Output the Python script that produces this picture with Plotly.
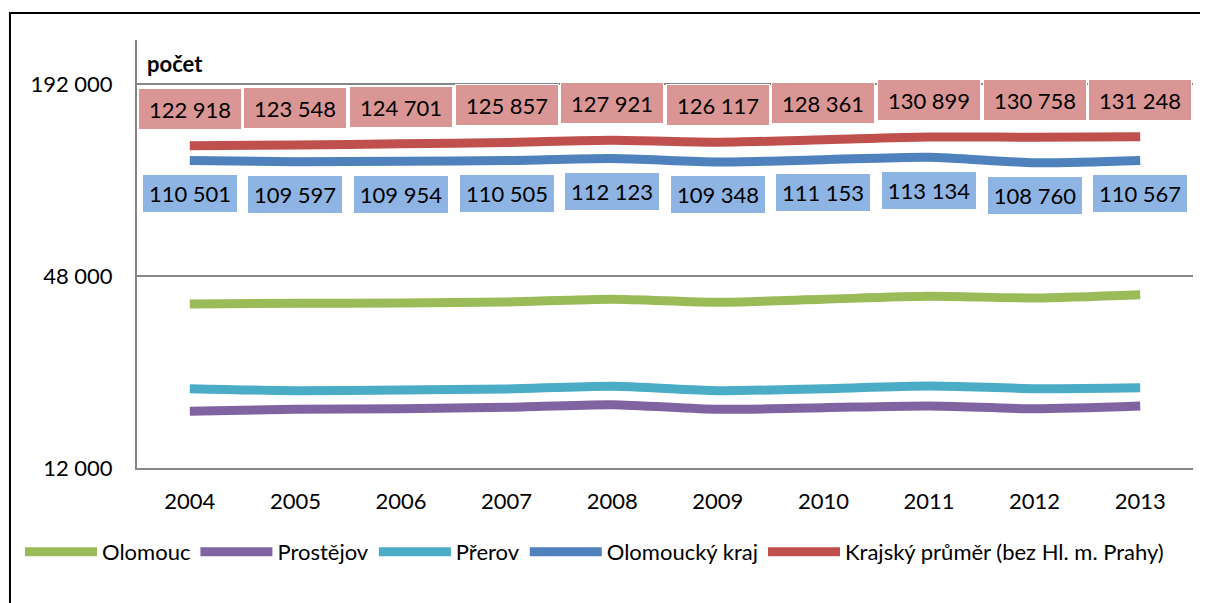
import math
import plotly.graph_objects as go

# data (log axis, base 4)
years = ["2004", "2005", "2006", "2007", "2008", "2009", "2010", "2011", "2012", "2013"]
olomouc = [39220, 39420, 39500, 39790, 40570, 39700, 40570, 41460, 40960, 41940]
prostejov = [18070, 18330, 18410, 18600, 18960, 18330, 18550, 18780, 18410, 18780]
prerov = [21280, 20970, 21080, 21230, 21650, 20970, 21280, 21700, 21280, 21430]
olomoucky_kraj = [110501, 109597, 109954, 110505, 112123, 109348, 111153, 113134, 108760, 110567]
krajsky_prumer = [122918, 123548, 124701, 125857, 127921, 126117, 128361, 130899, 130758, 131248]
y_ticks = [12000, 48000, 192000]

FONT = "Lato, 'Open Sans', sans-serif"


def fmt(v):
    return f"{v:,}".replace(",", " ")


series = [
    ("Olomouc", olomouc, "#9BBB59"),
    ("Prostějov", prostejov, "#8064A2"),
    ("Přerov", prerov, "#4BACC6"),
    ("Olomoucký kraj", olomoucky_kraj, "#4F81BD"),
    ("Krajský průměr (bez Hl. m. Prahy)", krajsky_prumer, "#C0504D"),
]

fig = go.Figure()
for name, vals, col in series:
    fig.add_trace(go.Scatter(
        x=years, y=vals, name=name, mode="lines",
        line=dict(color=col, width=9, shape="spline", smoothing=0.7),
        hoverinfo="skip",
    ))

# value boxes: region average above its line, Olomoucký kraj below
# (x given as category index so "2004" is not read as a number)
annotations = []
for i, v in enumerate(krajsky_prumer):
    annotations.append(dict(
        x=i, y=math.log10(v), text=fmt(v), showarrow=False, yshift=37,
        bgcolor="#D99694", bordercolor="white", borderwidth=1, borderpad=0,
        width=102, height=40, font=dict(family=FONT, size=22, color="black"),
    ))
for i, v in enumerate(olomoucky_kraj):
    annotations.append(dict(
        x=i, y=math.log10(v), text=fmt(v), showarrow=False, yshift=-33,
        bgcolor="#8EB4E3", bordercolor="white", borderwidth=1, borderpad=0,
        width=94, height=37, font=dict(family=FONT, size=22, color="black"),
    ))
annotations.append(dict(
    xref="paper", yref="paper", x=0.008, y=0.945, xanchor="left", yanchor="middle",
    text="<b>počet</b>", showarrow=False, font=dict(family=FONT, size=22, color="black"),
))
fig.update_layout(annotations=annotations)

# outer frame of the chart area
fig.add_shape(type="rect", xref="paper", yref="paper",
              x0=-0.1203, y0=-0.34, x1=1.03, y1=1.0631,
              line=dict(color="black", width=2), fillcolor="rgba(0,0,0,0)", layer="below")

# page body adds 8px, so margins are offset by that
fig.update_layout(
    width=1208, height=603,
    margin=dict(l=129, r=23, t=32, b=143, autoexpand=False),
    paper_bgcolor="white", plot_bgcolor="white",
    font=dict(family=FONT, size=22, color="black"),
    showlegend=True,
    legend=dict(
        orientation="h", x=-0.1108, y=-0.196, xanchor="left", yanchor="middle",
        font=dict(family=FONT, size=22, color="black"),
        itemwidth=72, tracegroupgap=0,
    ),
    xaxis=dict(
        type="category", range=[-0.5, 9.5], showgrid=False, automargin=False,
        showline=True, linecolor="#868686", linewidth=2,
        ticks="", ticklabelstandoff=13, tickfont=dict(size=22),
    ),
    yaxis=dict(
        type="log", range=[math.log10(12000), math.log10(12000) + 428 * math.log10(4) / 192],
        tickvals=y_ticks, ticktext=[fmt(t) for t in y_ticks], automargin=False,
        showgrid=True, gridcolor="#868686", gridwidth=2,
        showline=True, linecolor="#868686", linewidth=2,
        ticks="", ticklabelstandoff=18, tickfont=dict(size=22),
    ),
)

fig.write_html("out.html")
